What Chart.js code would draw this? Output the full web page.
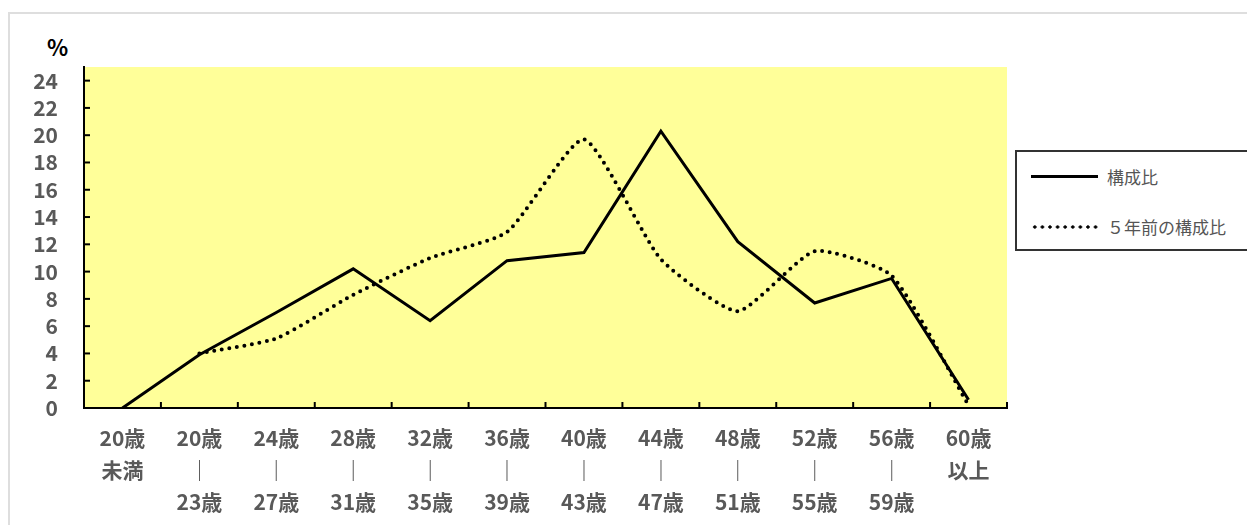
<!DOCTYPE html>
<html>
<head>
<meta charset="utf-8">
<script src="https://cdn.jsdelivr.net/npm/chart.js@4"></script>
<style>
  body { margin: 0; background: #fff; }
  #wrap { position: relative; width: 1247px; height: 525px; overflow: hidden; }
  #frame { position: absolute; left: 8px; top: 12px; width: 1260px; height: 540px; border: 2px solid #dedede; box-sizing: border-box; }
  #pct { position: absolute; left: 47px; top: 30px; font: bold 22px "Noto Sans CJK JP", sans-serif; color: #000; }
  #legend { position: absolute; left: 1015px; top: 150px; width: 250px; height: 101px; border: 2px solid #333; box-sizing: border-box; background: #fff; }
  .row { position: absolute; left: 14px; height: 22px; font: 17px "Noto Sans CJK JP", sans-serif; color: #555; line-height: 22px; }
  .row span.s { position: absolute; left: 0; top: 9px; width: 67px; }
  .row span.d { position: absolute; left: 0; top: 9px; width: 68px; height: 4px;
    background-image: radial-gradient(circle, #000 1.4px, transparent 1.9px); background-size: 7.6px 4px; }
  .row span.t { position: absolute; left: 76px; top: 0; white-space: nowrap; }
</style>
</head>
<body>
<div id="wrap">
  <div id="frame"></div>
  <div id="pct">%</div>
  <canvas id="myChart"></canvas>
  <div id="legend">
    <div class="row" style="top:14px"><span class="s" style="border-top:3px solid #000"></span><span class="t">構成比</span></div>
    <div class="row" style="top:64px"><span class="d"></span><span class="t">５年前の構成比</span></div>
  </div>
</div>
<script>
const categorias = [
  ['20歳', '未満'],
  ['20歳', '｜', '23歳'],
  ['24歳', '｜', '27歳'],
  ['28歳', '｜', '31歳'],
  ['32歳', '｜', '35歳'],
  ['36歳', '｜', '39歳'],
  ['40歳', '｜', '43歳'],
  ['44歳', '｜', '47歳'],
  ['48歳', '｜', '51歳'],
  ['52歳', '｜', '55歳'],
  ['56歳', '｜', '59歳'],
  ['60歳', '以上']
];
const serieNombres = ['構成比', '５年前の構成比'];
const composicion = [0, 3.9, 7.0, 10.2, 6.4, 10.8, 11.4, 20.3, 12.2, 7.7, 9.5, 0.6];
const composicion5 = [null, 4.0, 5.1, 8.3, 11.0, 12.9, 19.7, 10.9, 7.1, 11.5, 9.7, 0.2];
const yMin = 0, yMax = 25, yPaso = 2;

const fuente = '"Noto Sans CJK JP", sans-serif';

// fondo amarillo y marcas interiores de los ejes
const fondoYMarcas = {
  id: 'fondoYMarcas',
  beforeDraw(chart) {
    const { ctx, chartArea: a } = chart;
    ctx.save();
    ctx.fillStyle = '#ffff99';
    ctx.fillRect(a.left, a.top, a.right - a.left, a.bottom - a.top);
    ctx.restore();
  },
  afterDraw(chart) {
    const { ctx, chartArea: a, scales } = chart;
    ctx.save();
    ctx.strokeStyle = '#000';
    ctx.lineWidth = 2;
    scales.y.ticks.forEach(t => {
      const y = scales.y.getPixelForValue(t.value);
      ctx.beginPath(); ctx.moveTo(a.left, y); ctx.lineTo(a.left + 6, y); ctx.stroke();
    });
    for (let i = 0; i <= categorias.length; i++) {
      const x = scales.x.getPixelForValue(i - 0.5);
      ctx.beginPath(); ctx.moveTo(x, a.bottom); ctx.lineTo(x, a.bottom - 6); ctx.stroke();
    }
    ctx.restore();
  }
};

const cv = document.getElementById('myChart');
cv.style.position = 'absolute'; cv.style.left = '0'; cv.style.top = '0';
cv.width = 1247; cv.height = 525;
const ctx = cv.getContext('2d');

const myChart = new Chart(ctx, {
  type: 'line',
  data: {
    labels: categorias,
    datasets: [{
      label: serieNombres[0],
      data: composicion,
      borderColor: '#000',
      borderWidth: 3,
      pointRadius: 0,
      tension: 0
    }, {
      label: serieNombres[1],
      data: composicion5,
      borderColor: '#000',
      borderWidth: 4,
      borderDash: [0, 7.6],
      borderCapStyle: 'round',
      pointRadius: 0,
      tension: 0.18
    }]
  },
  options: {
    responsive: false,
    animation: false,
    layout: { padding: { left: 0, top: 67, right: 240, bottom: 0 } },
    plugins: { legend: { display: false }, tooltip: { enabled: false } },
    scales: {
      x: {
        offset: true,
        grid: { display: false },
        border: { display: true, color: '#000', width: 2 },
        afterFit: s => { s.height = 117; },
        ticks: {
          color: '#595959',
          padding: 6,
          maxRotation: 0,
          autoSkip: false,
          font: { family: fuente, size: 21, weight: 'bold', lineHeight: '32px' }
        }
      },
      y: {
        min: yMin,
        max: yMax,
        grid: { display: false },
        border: { display: true, color: '#000', width: 2 },
        afterFit: s => { s.width = 84; },
        ticks: {
          stepSize: yPaso,
          autoSkip: false,
          includeBounds: false,
          color: '#595959',
          padding: 18,
          font: { family: fuente, size: 21, weight: 'bold', lineHeight: 1 }
        }
      }
    }
  },
  plugins: [fondoYMarcas]
});
</script>
</body>
</html>
